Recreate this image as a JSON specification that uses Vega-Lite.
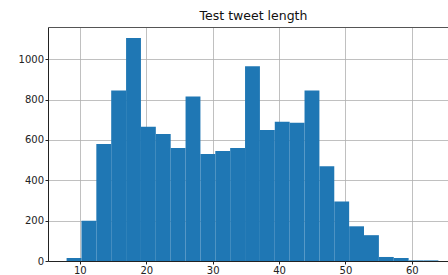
{
  "$schema": "https://vega.github.io/schema/vega-lite/v6.json",
  "autosize": {"type": "none"},
  "width": 401,
  "height": 234,
  "padding": {"left": 48, "top": 27, "right": 0, "bottom": 14},
  "background": "white",
  "title": {"text": "Test tweet length", "font": "DejaVu Sans", "fontSize": 12.5, "fontWeight": "normal", "color": "#111", "offset": 5, "anchor": "middle", "dx": 5},
  "config": {
    "view": {"stroke": null},
    "axis": {"labelFont": "DejaVu Sans", "labelFontSize": 10, "labelColor": "#222", "tickColor": "#222", "tickSize": 3, "domainColor": "#222", "gridColor": "#b0b0b0", "gridWidth": 0.8, "zindex": 1, "title": null, "labelPadding": 1.5}
  },
  "data": {"values": [
    {"bin_start": 8.0, "bin_end": 10.24, "count": 15},
    {"bin_start": 10.24, "bin_end": 12.48, "count": 200},
    {"bin_start": 12.48, "bin_end": 14.72, "count": 580},
    {"bin_start": 14.72, "bin_end": 16.96, "count": 845},
    {"bin_start": 16.96, "bin_end": 19.2, "count": 1105},
    {"bin_start": 19.2, "bin_end": 21.44, "count": 665},
    {"bin_start": 21.44, "bin_end": 23.68, "count": 630},
    {"bin_start": 23.68, "bin_end": 25.92, "count": 560},
    {"bin_start": 25.92, "bin_end": 28.16, "count": 815},
    {"bin_start": 28.16, "bin_end": 30.4, "count": 530},
    {"bin_start": 30.4, "bin_end": 32.64, "count": 545},
    {"bin_start": 32.64, "bin_end": 34.88, "count": 560},
    {"bin_start": 34.88, "bin_end": 37.12, "count": 965},
    {"bin_start": 37.12, "bin_end": 39.36, "count": 650},
    {"bin_start": 39.36, "bin_end": 41.6, "count": 690},
    {"bin_start": 41.6, "bin_end": 43.84, "count": 685},
    {"bin_start": 43.84, "bin_end": 46.08, "count": 845},
    {"bin_start": 46.08, "bin_end": 48.32, "count": 470},
    {"bin_start": 48.32, "bin_end": 50.56, "count": 295},
    {"bin_start": 50.56, "bin_end": 52.8, "count": 172},
    {"bin_start": 52.8, "bin_end": 55.04, "count": 128},
    {"bin_start": 55.04, "bin_end": 57.28, "count": 20},
    {"bin_start": 57.28, "bin_end": 59.52, "count": 15},
    {"bin_start": 59.52, "bin_end": 61.76, "count": 3},
    {"bin_start": 61.76, "bin_end": 64.0, "count": 3}
  ]},
  "layer": [
    {
      "mark": {"type": "rect", "color": "#1f77b4"},
      "encoding": {
        "x": {"field": "bin_start", "type": "quantitative", "scale": {"domain": [5.2, 65.6], "nice": false, "zero": false}, "axis": {"values": [10, 20, 30, 40, 50, 60], "format": "d"}},
        "x2": {"field": "bin_end"},
        "y": {"field": "count", "type": "quantitative", "scale": {"domain": [0, 1160], "nice": false}, "axis": {"values": [0, 200, 400, 600, 800, 1000], "format": "d"}}
      }
    },
    {
      "mark": {"type": "rect", "color": "#1f77b4", "opacity": 0},
      "encoding": {
        "x": {"field": "bin_start", "type": "quantitative", "axis": {"orient": "top", "labels": false, "ticks": false, "grid": false, "domain": true, "domainColor": "#555"}},
        "x2": {"field": "bin_end"},
        "y": {"field": "count", "type": "quantitative"}
      }
    }
  ],
  "resolve": {"axis": {"x": "independent"}}
}
